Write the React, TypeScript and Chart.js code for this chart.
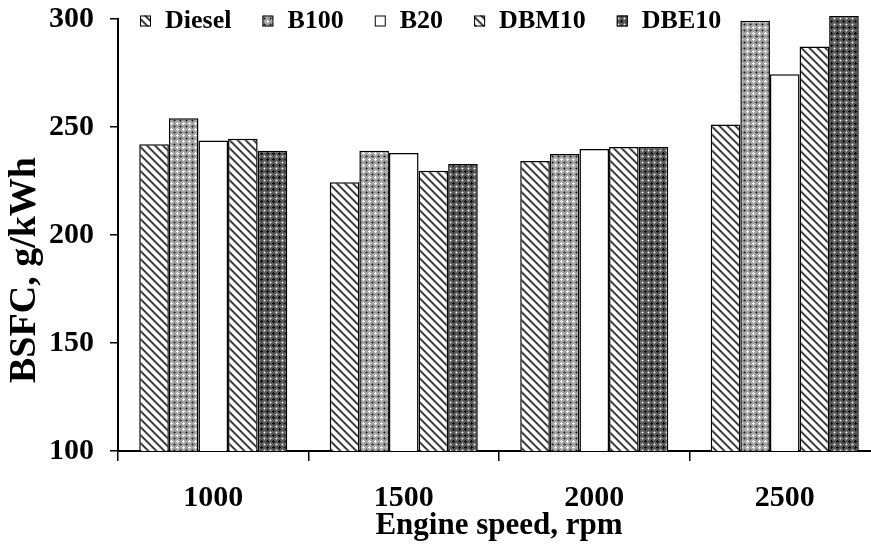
import React, { useEffect, useRef } from 'react';
import { Chart, registerables } from 'chart.js';

Chart.register(...registerables);

const categories = ['1000', '1500', '2000', '2500'];
const seriesNames = ['Diesel', 'B100', 'B20', 'DBM10', 'DBE10'];
const diesel = [242, 224.4, 234.3, 251.2];
const b100 = [254, 239, 237.5, 299.2];
const b20 = [243.7, 238, 239.8, 274.4];
const dbm10 = [244.6, 229.8, 240.7, 287.3];
const dbe10 = [239, 232.9, 240.7, 301.4];
const yMin = 100;
const yMax = 300;
const yStep = 50;
const xTitle = 'Engine speed, rpm';
const yTitle = 'BSFC, g/kWh';

const FONT = '"Liberation Serif", "Times New Roman", serif';

function makePattern(size: number, fn: (x: number, y: number) => string): CanvasPattern | string {
  const c = document.createElement('canvas');
  c.width = size;
  c.height = size;
  const g = c.getContext('2d');
  if (!g) return '#888';
  for (let y = 0; y < size; y++) {
    for (let x = 0; x < size; x++) {
      g.fillStyle = fn(x, y);
      g.fillRect(x, y, 1, 1);
    }
  }
  const p = g.createPattern(c, 'repeat');
  return p || '#888';
}

function hatch() {
  const shades = ['#a8a8a8', '#2e2e2e', '#4a4a4a', '#b0b0b0', '#ffffff', '#ffffff', '#ffffff', '#ffffff'];
  return makePattern(8, (x, y) => shades[(((x - y) % 8) + 8) % 8]);
}

function lightDots() {
  return makePattern(6, (x, y) => {
    const dx = x - 3;
    const dy = y - 3;
    if ((dx === 0 && Math.abs(dy) <= 1) || (dy === 0 && Math.abs(dx) <= 1)) return '#ffffff';
    if (x === 0 && y === 0) return '#1e1e1e';
    if ((x === 0 && (y === 1 || y === 5)) || (y === 0 && (x === 1 || x === 5))) return '#606060';
    return '#a2a2a2';
  });
}

function darkDots() {
  return makePattern(6, (x, y) => {
    const dx = x - 3;
    const dy = y - 3;
    if ((dx === 0 && Math.abs(dy) <= 1) || (dy === 0 && Math.abs(dx) <= 1)) return '#000000';
    if (x === 0 && y === 0) return '#f0f0f0';
    if ((x === 0 && (y === 1 || y === 5)) || (y === 0 && (x === 1 || x === 5))) return '#a0a0a0';
    return '#5a5a5a';
  });
}

const legendPlugin = {
  id: 'insideLegend',
  afterDatasetsDraw(chart: any) {
    const ctx = chart.ctx;
    const area = chart.chartArea;
    ctx.save();
    ctx.font = `bold 26px ${FONT}`;
    ctx.textBaseline = 'middle';
    ctx.textAlign = 'left';
    let x = area.left + 22;
    const y = 21;
    const box = 11;
    chart.data.datasets.forEach((ds: any) => {
      ctx.fillStyle = ds.backgroundColor;
      ctx.fillRect(x, y - box / 2, box, box);
      ctx.strokeStyle = '#000';
      ctx.lineWidth = 1;
      ctx.strokeRect(x + 0.5, y - box / 2 + 0.5, box - 1, box - 1);
      x += box + 14;
      ctx.fillStyle = '#000';
      ctx.fillText(ds.label, x, y);
      x += ctx.measureText(ds.label).width + 31;
    });
    ctx.restore();
  },
};

const yTitlePlugin = {
  id: 'yTitle',
  afterDraw(chart: any) {
    const ctx = chart.ctx;
    ctx.save();
    ctx.translate(25, 270);
    ctx.rotate(-Math.PI / 2);
    ctx.font = `bold 38px ${FONT}`;
    ctx.fillStyle = '#000';
    ctx.textAlign = 'center';
    ctx.textBaseline = 'middle';
    ctx.fillText(yTitle, 0, 0);
    ctx.restore();
  },
};

export default function App() {
  const ref = useRef<HTMLCanvasElement | null>(null);

  useEffect(() => {
    if (!ref.current) return;
    const fills = [hatch(), lightDots(), '#ffffff', hatch(), darkDots()];
    const values = [diesel, b100, b20, dbm10, dbe10];
    const chart = new Chart(ref.current, {
      type: 'bar',
      data: {
        labels: categories,
        datasets: seriesNames.map((name, i) => ({
          label: name,
          data: values[i],
          backgroundColor: fills[i] as any,
          borderColor: '#000',
          borderWidth: 1.5,
          categoryPercentage: 0.777,
          barPercentage: 1.0,
          clip: { left: 0, right: 0, top: 12, bottom: 0 } as any,
        })),
      },
      options: {
        responsive: false,
        animation: false,
        layout: { padding: { top: 19, right: 20, left: 0, bottom: 0 } },
        plugins: {
          legend: { display: false },
          tooltip: { enabled: false },
          title: { display: false },
        },
        scales: {
          x: {
            afterFit: (scale: any) => {
              scale.height = 95;
              scale.paddingLeft = 0;
              scale.paddingRight = 0;
            },
            grid: {
              offset: true,
              drawOnChartArea: false,
              drawTicks: true,
              tickLength: 10,
              color: '#000',
              lineWidth: 1.5,
            },
            border: { display: true, color: '#000', width: 2 },
            ticks: {
              color: '#000',
              padding: 19,
              font: { family: FONT, size: 30, weight: 'bold' },
            },
            title: {
              display: true,
              text: xTitle,
              color: '#000',
              font: { family: FONT, size: 31, weight: 'bold' },
              padding: { top: 0, bottom: 1 },
            },
          },
          y: {
            min: yMin,
            max: yMax,
            afterFit: (scale: any) => {
              scale.width = 118;
              scale.paddingTop = 0;
              scale.paddingBottom = 0;
            },
            grid: {
              drawOnChartArea: false,
              drawTicks: true,
              tickLength: 8,
              color: '#000',
              lineWidth: 1.5,
            },
            border: { display: true, color: '#000', width: 2 },
            ticks: {
              stepSize: yStep,
              color: '#000',
              padding: 16,
              font: { family: FONT, size: 30, weight: 'bold' },
            },
          },
        },
      },
      plugins: [legendPlugin, yTitlePlugin],
    });
    return () => chart.destroy();
  }, []);

  return (
    <div
      style={{
        position: 'absolute',
        left: 0,
        top: 0,
        width: 871,
        height: 546,
        overflow: 'hidden',
        background: '#fff',
      }}
    >
      <canvas ref={ref} width={900} height={546} style={{ display: 'block', width: 900, height: 546 }} />
    </div>
  );
}
